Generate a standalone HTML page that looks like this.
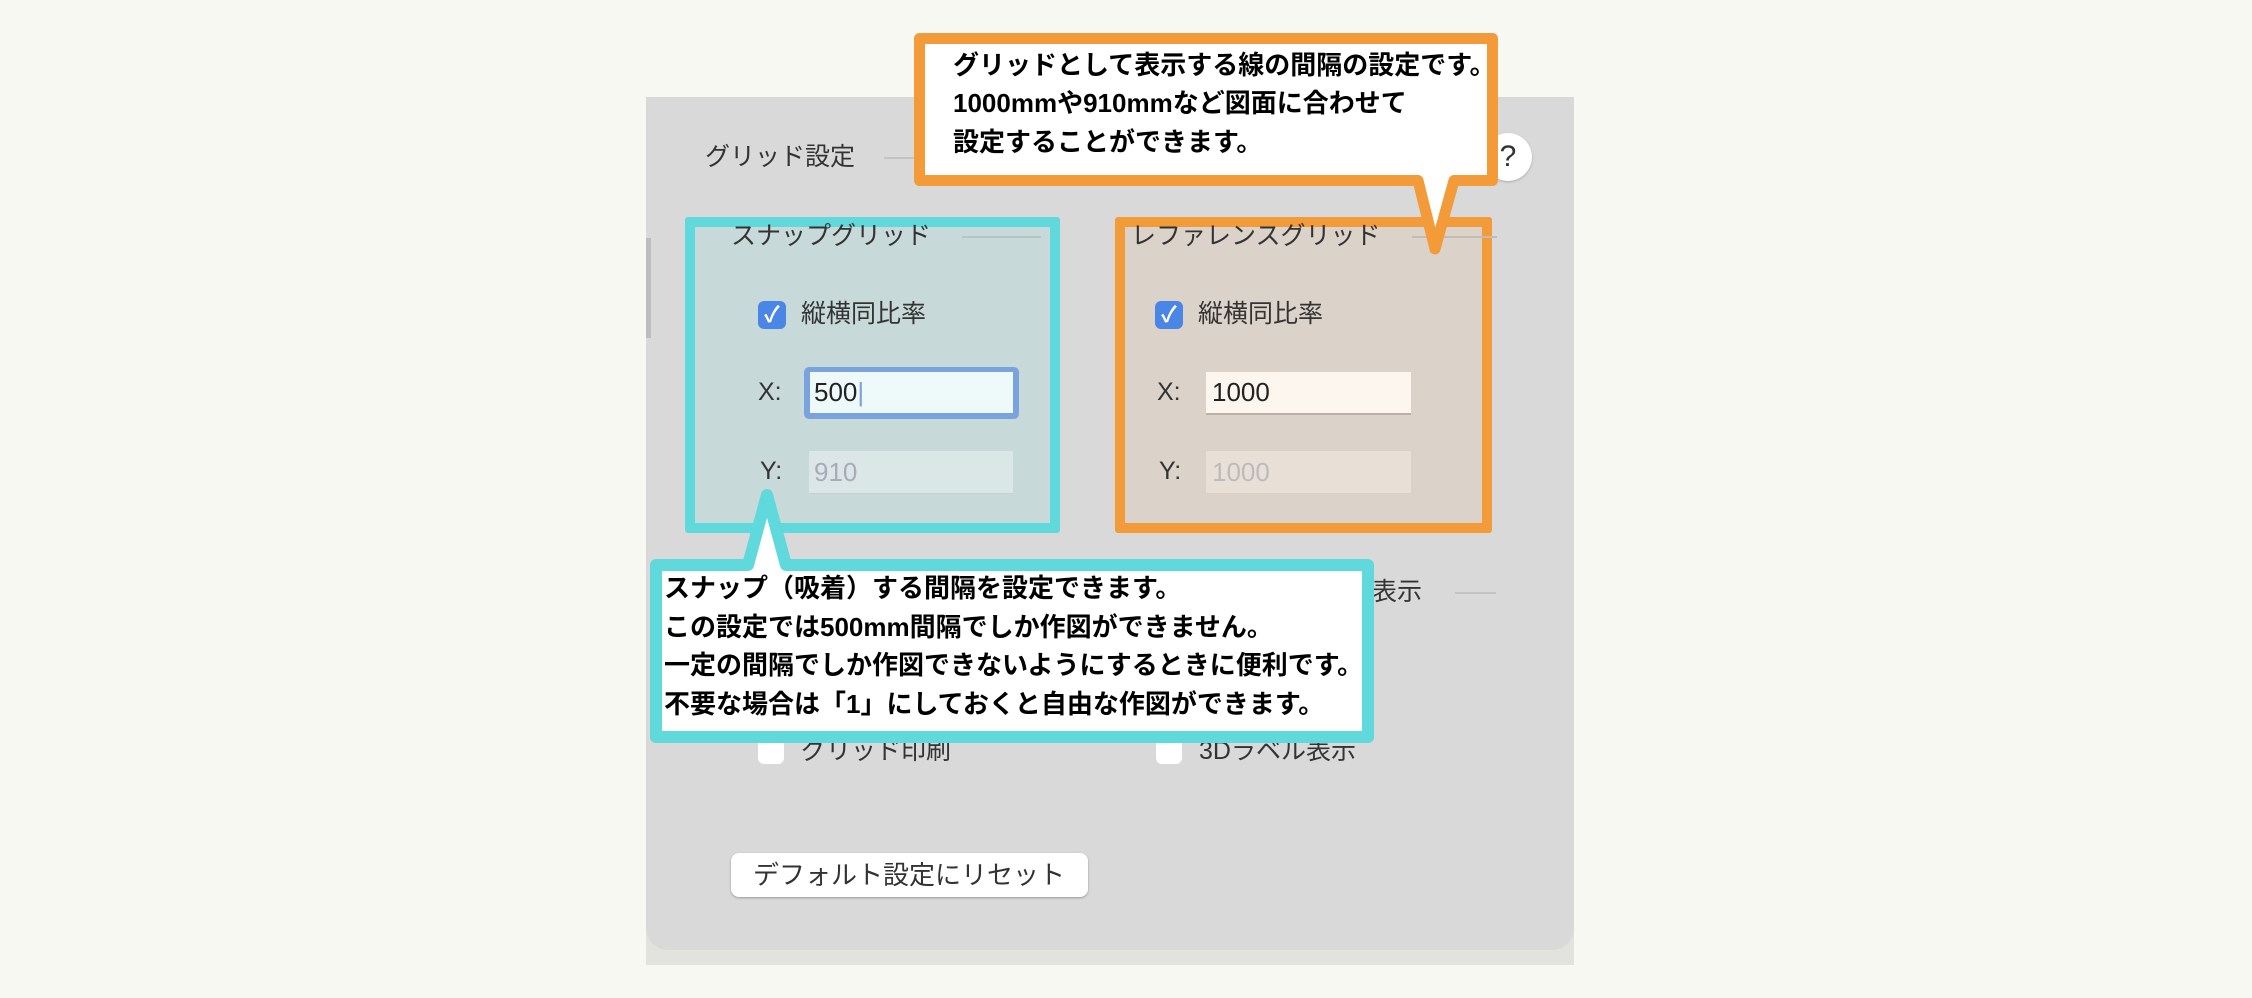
<!DOCTYPE html>
<html><head><meta charset="utf-8"><style>
html,body{margin:0;padding:0}
body{width:2252px;height:998px;background:#f8f8f3;position:relative;overflow:hidden;font-family:"Liberation Sans","Noto Sans CJK JP",sans-serif}
.a{position:absolute}
.t{position:absolute;color:#333;font-size:25px;line-height:1;white-space:nowrap}
.cb{position:absolute;width:28px;height:28px;border-radius:6px;background:#4a86e6;color:#fff;font-size:22px;line-height:28px;text-align:center;font-weight:bold}
.wb{position:absolute;width:26px;height:26px;border-radius:6px;background:#fff}
.b{font-weight:bold;color:#000;font-size:26px;position:absolute;white-space:nowrap;line-height:1}
</style></head><body>
<div class="a" style="left:646px;top:97px;width:928px;height:868px;background:#e2e2df"></div>
<div class="a" style="left:646px;top:97px;width:928px;height:853px;background:#d9d9d9;border-radius:0 0 22px 22px"></div>
<div class="a" style="left:646px;top:238px;width:5px;height:100px;background:#bdbdbd"></div>
<div class="t" style="left:705px;top:145px">グリッド設定</div>
<div class="a" style="left:884px;top:157px;width:40px;height:2px;background:#c4c4c4"></div>
<div class="a" style="left:1484px;top:133px;width:48px;height:48px;border-radius:50%;background:#fff;box-shadow:0 1px 2px #aaa;font-size:30px;line-height:48px;text-align:center;color:#333">?</div>

<div class="a" style="left:685px;top:217px;width:355px;height:296px;background:#c8d9d9;border:10px solid #5fd9dc;border-radius:3px"></div>
<div class="t" style="left:731px;top:224px">スナップグリッド</div>
<div class="a" style="left:962px;top:236px;width:79px;height:2px;background:#b8c4c4"></div>
<div class="cb" style="left:758px;top:301px">✓</div>
<div class="t" style="left:801px;top:302px">縦横同比率</div>
<div class="t" style="left:758px;top:380px">X:</div>
<div class="a" style="left:804px;top:367px;width:215px;height:52px;background:#7aa3de;border-radius:5px"></div>
<div class="a" style="left:810px;top:372px;width:203px;height:41px;background:#eef9f9"></div>
<div class="t" style="left:814px;top:379px;font-size:26px;color:#222">500<span style="color:#7aa3de">|</span></div>
<div class="t" style="left:760px;top:459px">Y:</div>
<div class="a" style="left:809px;top:451px;width:204px;height:42px;background:#dbe6e6;border-bottom:1px solid #c9d0d0"></div>
<div class="t" style="left:814px;top:459px;font-size:26px;color:#aab">910</div>

<div class="a" style="left:1115px;top:217px;width:357px;height:296px;background:#dbd3c9;border:10px solid #f29b38;border-radius:3px"></div>
<div class="t" style="left:1131px;top:224px">レファレンスグリッド</div>
<div class="a" style="left:1412px;top:236px;width:85px;height:2px;background:#c4bcb2"></div>
<div class="cb" style="left:1155px;top:301px">✓</div>
<div class="t" style="left:1198px;top:302px">縦横同比率</div>
<div class="t" style="left:1157px;top:380px">X:</div>
<div class="a" style="left:1206px;top:372px;width:205px;height:41px;background:#fdf6ee;border-bottom:2px solid #b9b0a6"></div>
<div class="t" style="left:1212px;top:379px;font-size:26px;color:#222">1000</div>
<div class="t" style="left:1159px;top:459px">Y:</div>
<div class="a" style="left:1206px;top:451px;width:205px;height:42px;background:#e8e0d6"></div>
<div class="t" style="left:1212px;top:459px;font-size:26px;color:#bbb">1000</div>

<div class="t" style="left:1372px;top:580px">表示</div>
<div class="a" style="left:1455px;top:592px;width:41px;height:2px;background:#c4c4c4"></div>
<div class="wb" style="left:758px;top:738px"></div>
<div class="t" style="left:801px;top:739px">グリッド印刷</div>
<div class="wb" style="left:1156px;top:738px"></div>
<div class="t" style="left:1199px;top:739px">3Dラベル表示</div>
<div class="a" style="left:731px;top:853px;width:357px;height:44px;background:#fff;border-radius:8px;box-shadow:0 1px 2px #999"></div>
<div class="t" style="left:753px;top:862px;font-size:26px">デフォルト設定にリセット</div>

<svg class="a" style="left:0;top:0" width="2252" height="998">
<path d="M919.5 38.5 H1492.5 V180.5 H1454 L1435 249 L1418 180.5 H919.5 Z" fill="#fff" stroke="#f29b38" stroke-width="11" stroke-linejoin="round"/>
<path d="M656 565 H748 L767 495 L786 565 H1368 V737 H656 Z" fill="#fff" stroke="#5fd9dc" stroke-width="12" stroke-linejoin="round"/>
</svg>
<div class="b" style="left:953px;top:52px">グリッドとして表示する線の間隔の設定です。</div>
<div class="b" style="left:953px;top:90px">1000mmや910mmなど図面に合わせて</div>
<div class="b" style="left:953px;top:129px">設定することができます。</div>
<div class="b" style="left:664px;top:575px">スナップ（吸着）する間隔を設定できます。</div>
<div class="b" style="left:664px;top:614px">この設定では500mm間隔でしか作図ができません。</div>
<div class="b" style="left:664px;top:652px">一定の間隔でしか作図できないようにするときに便利です。</div>
<div class="b" style="left:664px;top:691px">不要な場合は「1」にしておくと自由な作図ができます。</div>
</body></html>
